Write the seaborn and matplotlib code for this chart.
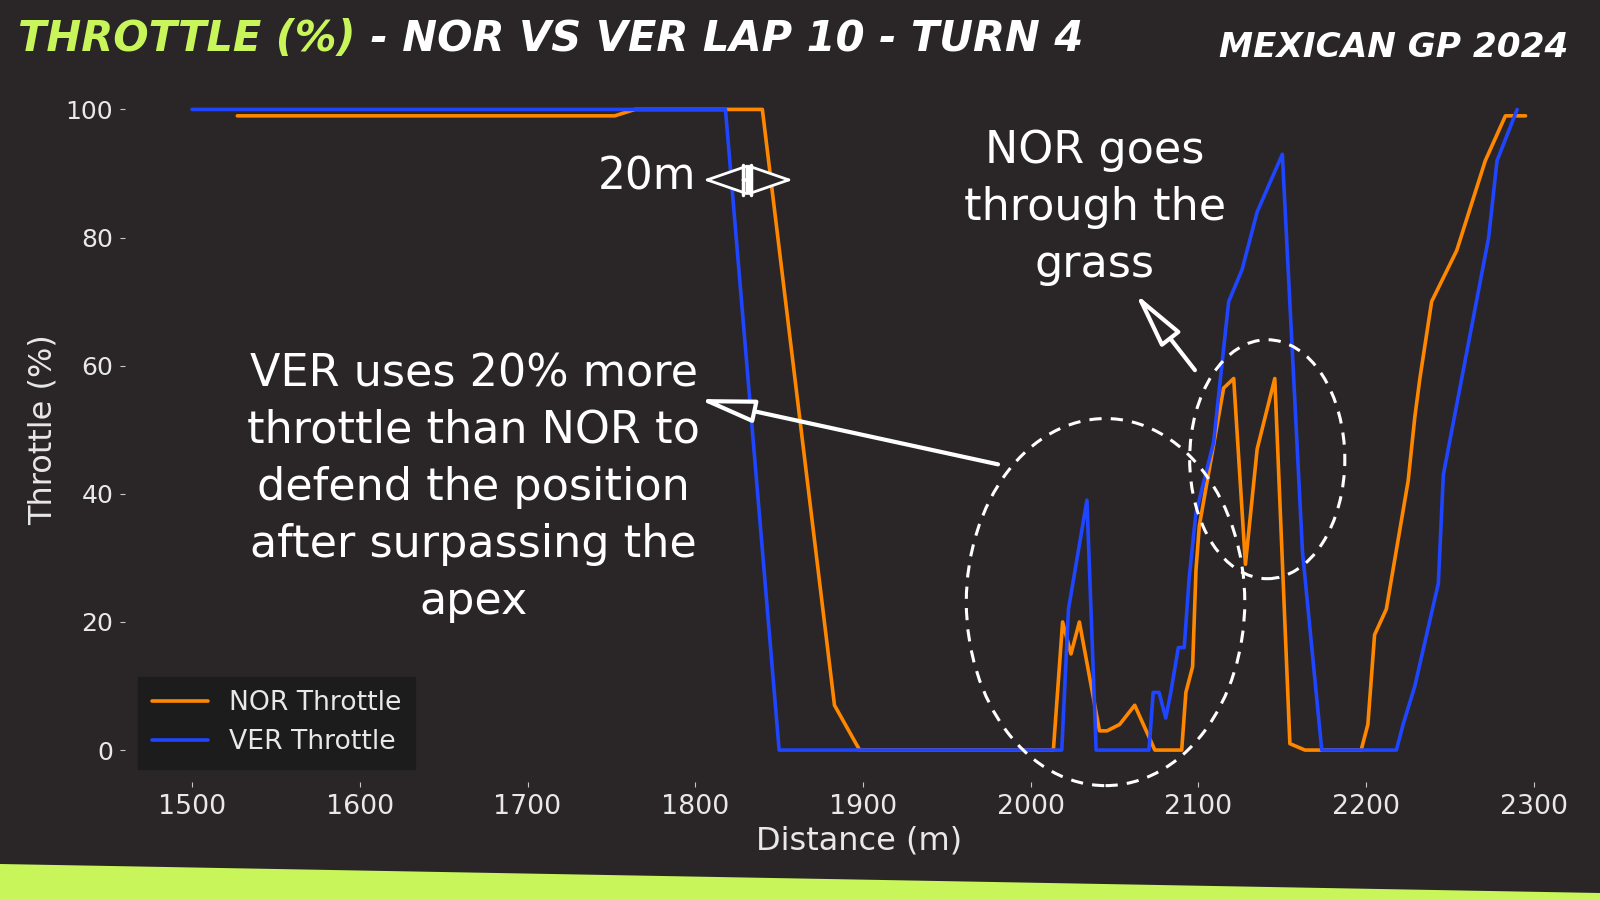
import numpy as np
import pandas as pd
import matplotlib
matplotlib.use("Agg")
import matplotlib.pyplot as plt
import seaborn as sns
from matplotlib.patches import Ellipse, FancyArrowPatch, Polygon
from matplotlib.lines import Line2D

# ---------------- data ----------------
nor_dist = [1527, 1752, 1764, 1840, 1883, 1898, 2013.5, 2019, 2024, 2029, 2041, 2045.5,
            2053, 2062, 2074, 2090, 2092.5, 2096.5, 2098.5, 2100.5, 2115, 2121, 2128, 2135,
            2145.5, 2154.5, 2163.5, 2197, 2201, 2205, 2212, 2225, 2229, 2232, 2239, 2254,
            2271, 2283, 2295]
nor_thr = [99, 99, 100, 100, 7, 0, 0, 20, 15, 20, 3, 3,
           4, 7, 0, 0, 9, 13, 28, 35, 56.5, 58, 29, 47,
           58, 1, 0, 0, 4, 18, 22, 42, 52, 58, 70, 78,
           92, 99, 99]
ver_dist = [1500, 1818, 1850, 2018.5, 2022.5, 2033.5, 2039, 2070.5, 2073, 2076.5, 2080.5,
            2083.5, 2088, 2091.5, 2094.5, 2098.5, 2109, 2118, 2126, 2135, 2150, 2162,
            2173.5, 2218, 2222, 2229, 2243, 2246, 2273, 2278, 2290]
ver_thr = [100, 100, 0, 0, 22, 39, 0, 0, 9, 9, 5,
           9, 16, 16, 27, 37, 48, 70, 75, 84, 93, 31,
           0, 0, 4, 10, 26, 43, 80, 92, 100]
series_labels = ["NOR Throttle", "VER Throttle"]
x_ticks = [1500, 1600, 1700, 1800, 1900, 2000, 2100, 2200, 2300]
y_ticks = [0, 20, 40, 60, 80, 100]

title_hi = "THROTTLE (%)"
title_rest = " - NOR VS VER LAP 10 - TURN 4"
subtitle = "MEXICAN GP 2024"
note_ver = "VER uses 20% more\nthrottle than NOR to\ndefend the position\nafter surpassing the\napex"
note_nor = "NOR goes\nthrough the\ngrass"
note_gap = "20m"

# ---------------- style ----------------
BG = "#2a2627"
LIME = "#c8f65a"
ORANGE = "#ff8700"
BLUE = "#1f45ff"
sns.set_theme(style="dark")
plt.rcParams["font.family"] = ["DejaVu Sans"]
plt.rcParams["axes.facecolor"] = BG
plt.rcParams["figure.facecolor"] = BG

df = pd.concat([
    pd.DataFrame({"Distance": nor_dist, "Throttle": nor_thr, "Driver": series_labels[0]}),
    pd.DataFrame({"Distance": ver_dist, "Throttle": ver_thr, "Driver": series_labels[1]}),
], ignore_index=True)

fig = plt.figure(figsize=(16, 9), dpi=100, facecolor=BG)
ax = fig.add_axes([0.0781, 0.131, 0.9173, 0.783])
ax.set_facecolor(BG)

sns.lineplot(data=df, x="Distance", y="Throttle", hue="Driver",
             palette={series_labels[0]: ORANGE, series_labels[1]: BLUE},
             estimator=None, sort=False, lw=2.6, ax=ax, legend=False)

ax.set_xlim(1460, 2335)
ax.set_ylim(-5, 105)
ax.set_xticks(x_ticks)
ax.set_yticks(y_ticks)
for s in ax.spines.values():
    s.set_visible(False)
ax.tick_params(axis="both", which="major", length=3.5, width=0.8, color="#c8c8c8",
               labelcolor="#e8e8e8", left=True, bottom=True, pad=5)
ax.tick_params(axis="x", labelsize=19.3)
ax.tick_params(axis="y", labelsize=18)
ax.set_xlabel("Distance (m)", fontsize=23, color="#e8e8e8", labelpad=4)
ax.set_ylabel("Throttle (%)", fontsize=23, color="#e8e8e8", labelpad=5)
ax.grid(False)

handles = [Line2D([], [], color=ORANGE, lw=2.6), Line2D([], [], color=BLUE, lw=2.6)]
leg = ax.legend(handles, series_labels, loc="lower left", fontsize=19.2,
                facecolor="#1c1c1c", edgecolor="#1c1c1c", framealpha=1,
                labelcolor="#e8e8e8", handlelength=2.1, borderpad=0.5,
                labelspacing=0.5, borderaxespad=0.5)
leg.get_frame().set_boxstyle("square", pad=0)

# ellipses
for (cx, cy, w, h) in [(2044.6, 23.1, 166, 57.3), (2141, 45.4, 92.5, 37.3)]:
    e = Ellipse((cx, cy), w, h, fill=False, ec="white", lw=2.2, ls=(0, (4, 3)),
                clip_on=False, zorder=5)
    ax.add_patch(e)

# annotation texts
ax.text(1668, 41.0, note_ver, ha="center", va="center", fontsize=32, color="white",
        linespacing=1.41, zorder=6)
ax.text(2038.3, 84.7, note_nor, ha="center", va="center", fontsize=32, color="white",
        linespacing=1.41, zorder=6)
ax.text(1800.5, 89.4, note_gap, ha="right", va="center", fontsize=31.5, color="white", zorder=6)

# arrows
a1 = FancyArrowPatch((1980.5, 44.6), (1801.6, 54.8),
                     arrowstyle="-|>,head_length=1.55,head_width=0.32", mutation_scale=22,
                     fc=BG, ec="white", lw=3, zorder=6, shrinkA=0, shrinkB=0)
ax.add_patch(a1)
a2 = FancyArrowPatch((2097.9, 59.3), (2062.2, 71.3),
                     arrowstyle="-|>,head_length=1.55,head_width=0.34", mutation_scale=22,
                     fc=BG, ec="white", lw=3, zorder=6, shrinkA=0, shrinkB=0)
ax.add_patch(a2)
a3 = FancyArrowPatch((1804.6, 89.0), (1858.3, 89.0),
                     arrowstyle="<|-|>,head_length=1.3,head_width=0.45", mutation_scale=22,
                     fc=BG, ec="white", lw=2, zorder=6, shrinkA=0, shrinkB=0)
ax.add_patch(a3)
a4 = FancyArrowPatch((1828.6, 89.0), (1833.5, 89.0),
                     arrowstyle="|-|,widthA=0.5,widthB=0.5", mutation_scale=22,
                     color="white", lw=2.5, zorder=7, shrinkA=0, shrinkB=0)
ax.add_patch(a4)

# lime band at bottom
band = Polygon([(0, 1 - 864 / 900), (1, 1 - 893 / 900), (1, 0), (0, 0)],
               closed=True, transform=fig.transFigure, fc=LIME, ec="none", zorder=0)
fig.patches.append(band)

# title (two colours)
tfont = dict(fontsize=30, fontweight="bold", fontstyle="italic", va="center")
t1 = fig.text(18 / 1600, 1 - 39.5 / 900, title_hi, color=LIME, **tfont)
fig.canvas.draw()
r = fig.canvas.get_renderer()
bb = t1.get_window_extent(renderer=r)
fig.text(bb.x1 / fig.bbox.width, 1 - 39.5 / 900, title_rest, color="white", **tfont)
fig.text(1568 / 1600, 1 - 47.5 / 900, subtitle, color="white", ha="right",
         fontsize=24.7, fontweight="bold", fontstyle="italic", va="center")

fig.savefig("out.png", dpi=100, facecolor=BG)
